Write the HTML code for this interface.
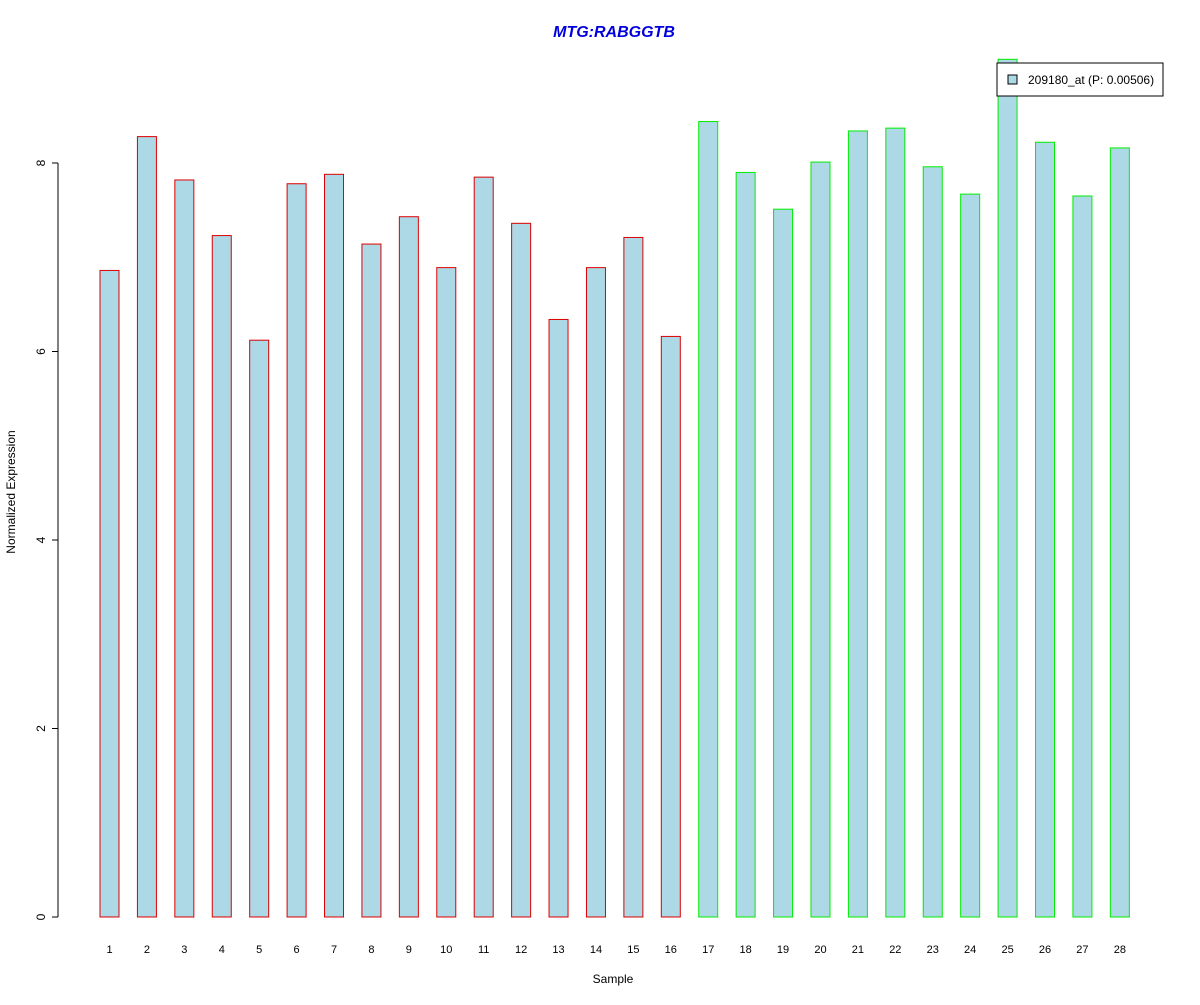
<!DOCTYPE html>
<html><head><meta charset="utf-8"><style>
body{margin:0;background:#fff;}
svg text{font-family:"Liberation Sans",Arial,sans-serif;}
</style></head><body>
<svg id="chart" width="1200" height="1000" xmlns="http://www.w3.org/2000/svg">
<rect width="1200" height="1000" fill="#fff"/>
<text x="614" y="37" text-anchor="middle" font-size="16" font-weight="bold" font-style="italic" fill="#0000dd">MTG:RABGGTB</text>
<text x="613" y="983" text-anchor="middle" font-size="12">Sample</text>
<text transform="translate(15,492) rotate(-90)" text-anchor="middle" font-size="12">Normalized Expression</text>
<g id="yaxis"></g>
<g id="bars"></g>
<g id="xlabels"></g>
<g>
<rect x="997" y="63" width="166" height="33" fill="#fff" stroke="#000"/>
<rect x="1008" y="75" width="9" height="9" fill="#add8e6" stroke="#000"/>
<text x="1028" y="84" font-size="12">209180_at (P: 0.00506)</text>
</g>
</svg>
<script>
const categories=["1","2","3","4","5","6","7","8","9","10","11","12","13","14","15","16","17","18","19","20","21","22","23","24","25","26","27","28"];
const values=[6.86,8.28,7.82,7.23,6.12,7.78,7.88,7.14,7.43,6.89,7.85,7.36,6.34,6.89,7.21,6.16,8.44,7.90,7.51,8.01,8.34,8.37,7.96,7.67,9.10,8.22,7.65,8.16];
const groups=[0,0,0,0,0,0,0,0,0,0,0,0,0,0,0,0,1,1,1,1,1,1,1,1,1,1,1,1];
const yTicks=[0,2,4,6,8];
const NS="http://www.w3.org/2000/svg";
const y=v=>917-v*94.25;
const x=i=>109.5+i*37.42;
const bw=19;
const ya=document.getElementById('yaxis');
function mk(t,a,p){const e=document.createElementNS(NS,t);for(const k in a)e.setAttribute(k,a[k]);p.appendChild(e);return e;}
let l=mk('line',{x1:58,x2:58,y1:y(0),y2:y(8),stroke:'#000'},ya);
yTicks.forEach(v=>{
 const t=mk('line',{x1:52,x2:58,y1:y(v),y2:y(v),stroke:'#000'},ya);
 
 
 const tx=mk('text',{transform:`translate(45,${y(v)}) rotate(-90)`,'text-anchor':'middle','font-size':12},ya);
 
 
 tx.textContent=v;
});
const bg=document.getElementById('bars'),xl=document.getElementById('xlabels');
values.forEach((v,i)=>{
 const r=mk('rect',{x:x(i)-bw/2,y:y(v),width:bw,height:y(0)-y(v),fill:'#add8e6',stroke:groups[i]?'#00ee00':'#dd0000'},bg);
 
 
 const t=mk('text',{x:x(i),y:953,'text-anchor':'middle','font-size':11},xl);
 
 
 t.textContent=categories[i];
});
</script>
</body></html>
